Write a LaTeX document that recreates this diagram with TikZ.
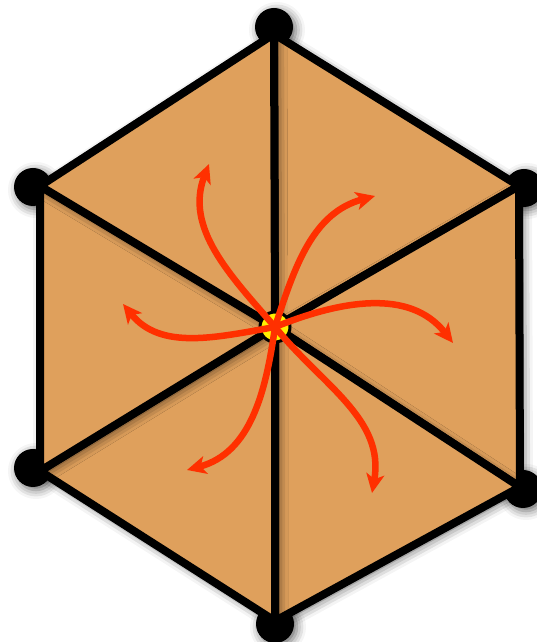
\documentclass[tikz,border=0pt]{standalone}
\usepackage{tikz}
\usetikzlibrary{arrows.meta,shadows.blur}
\definecolor{hexorange}{RGB}{223,160,92}
\definecolor{spinred}{RGB}{255,48,0}
\definecolor{hubyellow}{RGB}{255,240,0}
\tikzset{
  tri/.style={draw=black, line width=8pt, fill=hexorange, line join=miter,
              blur shadow={shadow xshift=3pt, shadow yshift=-3pt, shadow blur radius=10pt, shadow opacity=70}},
  vdot/.style={circle, fill=black, inner sep=0pt, minimum size=38pt,
               blur shadow={shadow xshift=3pt, shadow yshift=-3pt, shadow blur radius=9pt, shadow opacity=60}},
  hub/.style={circle, draw=black, line width=3pt, fill=hubyellow, inner sep=0pt, minimum size=30pt},
  spin/.style={-{Stealth[length=19pt,width=18pt,inset=5pt]}, spinred, line width=6.5pt},
}

\begin{document}
\begin{tikzpicture}[x=1pt,y=1pt]
    \useasboundingbox (0,0) rectangle (537,642);
    % corner dots sit under the faces
    \node[vdot] (dt) at (274,615) {};
    \node[vdot] (dur) at (524,454) {};
    \node[vdot] (dlr) at (523,153) {};
    \node[vdot] (db) at (275,18) {};
    \node[vdot] (dll) at (33,174) {};
    \node[vdot] (dul) at (33,455) {};
    \coordinate (t) at (274,608);
    \coordinate (ur) at (519,456);
    \coordinate (lr) at (520,155);
    \coordinate (b) at (275,21);
    \coordinate (ll) at (40,171);
    \coordinate (ul) at (40,456);
    \coordinate (o) at (275,315);
    % six faces
    \draw[tri] (o) -- (t) -- (ur) -- cycle;
    \draw[tri] (o) -- (ur) -- (lr) -- cycle;
    \draw[tri] (o) -- (lr) -- (b) -- cycle;
    \draw[tri] (o) -- (b) -- (ll) -- cycle;
    \draw[tri] (o) -- (ll) -- (ul) -- cycle;
    \draw[tri] (o) -- (ul) -- (t) -- cycle;
    \node[hub] (c) at (o) {};
    % arrow tips
    \coordinate (a1) at (209,478);
    \coordinate (a2) at (375,446);
    \coordinate (a3) at (453,299);
    \coordinate (a4) at (123,338);
    \coordinate (a5) at (187,172);
    \coordinate (a6) at (372,149);
    \draw[spin] (c.center) to[out=131,in=249] (a1);
    \draw[spin] (c.center) to[out=72,in=195] (a2);
    \draw[spin] (c.center) to[out=22,in=128] (a3);
    \draw[spin] (c.center) to[out=190,in=309] (a4);
    \draw[spin] (c.center) to[out=262,in=15] (a5);
    \draw[spin] (c.center) to[out=309,in=80] (a6);
\end{tikzpicture}
\end{document}
